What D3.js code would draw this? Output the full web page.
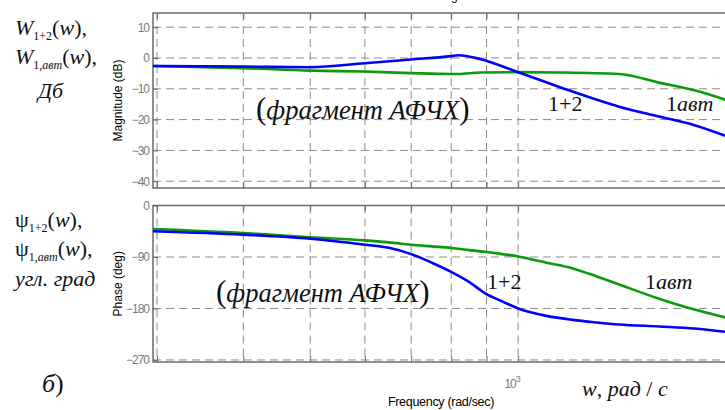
<!DOCTYPE html>
<html><head><meta charset="utf-8">
<script src="https://cdn.jsdelivr.net/npm/d3@7"></script>
<style>body{margin:0;background:#fff;} svg{display:block;}
.sf{font-family:'Liberation Serif','Times New Roman',Times,serif;}
.ss{font-family:'Liberation Sans',Arial,Helvetica,sans-serif;}
</style>
</head><body><svg id="c" width="725" height="410"></svg>
<script>
// ---- data ----
const magFreq   = [296, 400, 500, 600, 700, 800, 820, 880, 1000, 1150, 1400, 1600, 1800, 2000];
const magBlue   = [-2.6, -2.8, -3.0, -1.7, -0.5, 0.6, 0.9, -0.3, -4.6, -9.5, -15.8, -19.0, -21.8, -25.3];
const magGreen  = [-2.6, -3.3, -4.1, -4.4, -4.9, -5.2, -5.2, -4.7, -4.6, -4.7, -5.2, -8.0, -10.5, -13.6];
const phaseFreq  = [296, 400, 500, 600, 650, 700, 750, 800, 850, 900, 950, 1000, 1100, 1200, 1300, 1400, 1600, 1800, 2000];
const phaseBlue  = [-45, -51, -58, -68.5, -74, -85, -100, -116, -134, -155, -168, -180, -193, -200, -204.5, -208, -211.5, -215, -221];
const phaseGreen = [-41, -48, -55.7, -61, -64.5, -68.5, -71.5, -74.3, -78, -81.3, -85, -89, -100, -110, -124, -138, -163, -182, -196];
const magTicks   = [10, 0, -10, -20, -30, -40];
const phaseTicks = [0, -90, -180, -270];
const gridFreqs  = [300, 400, 500, 600, 700, 800, 900, 1000, 2000];

// ---- scales ----
const svg = d3.select('#c');
const x = d3.scaleLog().domain([296, 2000]).range([153, 726]);
const yMag = d3.scaleLinear().domain([-42.2, 14.6]).range([188, 13]);
const yPh  = d3.scaleLinear().domain([-273.6, 0]).range([362, 205.5]);

const gridCol = '#8c8c8c', axCol = '#6b6b6b', tickTxt = '#7a7a7a';

function panel(y, ticks, fA, fB, clipId) {
  const [y0, y1] = y.range();
  const [x0, x1] = x.range();
  const g = svg.append('g');
  g.selectAll('.hg').data(ticks).join('line')
    .attr('x1', x0).attr('x2', x1).attr('y1', d => y(d)).attr('y2', d => y(d))
    .attr('stroke', gridCol).attr('stroke-width', 1).attr('stroke-dasharray', '8,5');
  g.selectAll('.vg').data(gridFreqs).join('line')
    .attr('x1', d => x(d)).attr('x2', d => x(d)).attr('y1', y1).attr('y2', y0)
    .attr('stroke', gridCol).attr('stroke-width', 1).attr('stroke-dasharray', '8,5');
  const ya = g.append('g').attr('transform', `translate(${x0},0)`)
    .call(d3.axisLeft(y).tickValues(ticks).tickSize(-5).tickPadding(4).tickFormat(d3.format('d')));
  ya.select('.domain').remove();
  ya.attr('font-family', null);
  ya.selectAll('line').attr('stroke', axCol);
  ya.selectAll('text').attr('fill', tickTxt).attr('class', 'ss')
    .attr('font-size', 12).attr('letter-spacing', '-1');
  const xt = g.append('g').attr('transform', `translate(0,${y1})`)
    .call(d3.axisTop(x).tickValues(gridFreqs).tickSize(-6).tickFormat(''));
  xt.select('.domain').remove(); xt.selectAll('line').attr('stroke', axCol);
  const xb = g.append('g').attr('transform', `translate(0,${y0})`)
    .call(d3.axisBottom(x).tickValues(gridFreqs).tickSize(-6).tickFormat(''));
  xb.select('.domain').remove(); xb.selectAll('line').attr('stroke', axCol);
  g.append('rect').attr('x', x0).attr('y', y1).attr('width', x1 - x0).attr('height', y0 - y1)
    .attr('fill', 'none').attr('stroke', axCol).attr('stroke-width', 1.5);
  svg.append('clipPath').attr('id', clipId).append('rect')
    .attr('x', x0).attr('y', y1).attr('width', x1 - x0).attr('height', y0 - y1);
  const line = d3.line().curve(d3.curveMonotoneX).x(d => x(d[0])).y(d => y(d[1]));
  const lg = g.append('g').attr('clip-path', `url(#${clipId})`);
  lg.append('path').datum(fB).attr('d', line).attr('fill', 'none')
    .attr('stroke', '#0a9a0a').attr('stroke-width', 2.6).attr('stroke-linejoin', 'round');
  lg.append('path').datum(fA).attr('d', line).attr('fill', 'none')
    .attr('stroke', '#0000ff').attr('stroke-width', 2.6).attr('stroke-linejoin', 'round');
}

panel(yMag, magTicks, magFreq.map((f, i) => [f, magBlue[i]]), magFreq.map((f, i) => [f, magGreen[i]]), 'cm');
panel(yPh, phaseTicks, phaseFreq.map((f, i) => [f, phaseBlue[i]]), phaseFreq.map((f, i) => [f, phaseGreen[i]]), 'cp');

// ---- axis texts ----
svg.append('text').attr('class', 'ss').attr('x', 440).attr('y', -0.5).attr('text-anchor', 'middle')
  .attr('font-size', 12).text('Bode Diagram');
svg.append('text').attr('class', 'ss').attr('transform', `translate(122,${(13 + 188) / 2}) rotate(-90)`).attr('text-anchor', 'middle')
  .attr('font-size', 12).text('Magnitude (dB)');
svg.append('text').attr('class', 'ss').attr('transform', `translate(122,${(205.5 + 362) / 2}) rotate(-90)`).attr('text-anchor', 'middle')
  .attr('font-size', 12).text('Phase (deg)');
svg.append('text').attr('class', 'ss').attr('x', 441).attr('y', 406).attr('text-anchor', 'middle')
  .attr('font-size', 12.5).attr('letter-spacing', '-0.3').text('Frequency (rad/sec)');
const t3 = svg.append('text').attr('class', 'ss').attr('x', x(1000) - 6).attr('y', 388).attr('text-anchor', 'middle')
  .attr('font-size', 12).attr('letter-spacing', '-1').attr('fill', tickTxt);
t3.append('tspan').text('10');
t3.append('tspan').attr('dy', -6).attr('font-size', 9).text('3');

// ---- annotations ----
function rich(xp, yp, parts, size) {
  const t = svg.append('text').attr('class', 'sf').attr('x', xp).attr('y', yp).attr('font-size', size).attr('fill', '#111');
  let cur = 0;
  parts.forEach(p => {
    const s = t.append('tspan').text(p.t);
    if (p.i) s.attr('font-style', 'italic');
    if (p.s) s.attr('font-size', p.s);
    const dy = (p.dy || 0) - cur;
    if (dy) s.attr('dy', dy);
    cur = p.dy || 0;
  });
  return t;
}
rich(15, 35, [{t: 'W', i: 1}, {t: '1+2', s: 12, dy: 5}, {t: '('}, {t: 'w', i: 1}, {t: '),'}], 22);
rich(15, 64, [{t: 'W', i: 1}, {t: '1,', s: 12, dy: 5}, {t: 'авт', i: 1, s: 12, dy: 5}, {t: '('}, {t: 'w', i: 1}, {t: '),'}], 22);
rich(38, 98, [{t: 'Дб', i: 1}], 22);
rich(15, 227, [{t: 'ψ'}, {t: '1+2', s: 12, dy: 5}, {t: '('}, {t: 'w', i: 1}, {t: '),'}], 22);
rich(15, 256, [{t: 'ψ'}, {t: '1,', s: 12, dy: 5}, {t: 'авт', i: 1, s: 12, dy: 5}, {t: '('}, {t: 'w', i: 1}, {t: '),'}], 22);
rich(15, 286, [{t: 'угл. град', i: 1}], 22);
rich(42, 392, [{t: 'б', i: 1}, {t: ')'}], 26);
rich(582, 396, [{t: 'w', i: 1}, {t: ', '}, {t: 'рад', i: 1}, {t: ' / '}, {t: 'с', i: 1}], 22);
rich(256, 119, [{t: '(', s: 31}, {t: 'фрагмент АФЧХ', i: 1}, {t: ')', s: 31}], 26.5);
rich(216, 302, [{t: '(', s: 31}, {t: 'фрагмент АФЧХ', i: 1}, {t: ')', s: 31}], 26.5);
rich(548, 111, [{t: '1+2'}], 22);
rich(666, 111, [{t: '1'}, {t: 'авт', i: 1}], 22);
rich(487, 289, [{t: '1+2'}], 22);
rich(645, 289, [{t: '1'}, {t: 'авт', i: 1}], 22);
</script></body></html>
